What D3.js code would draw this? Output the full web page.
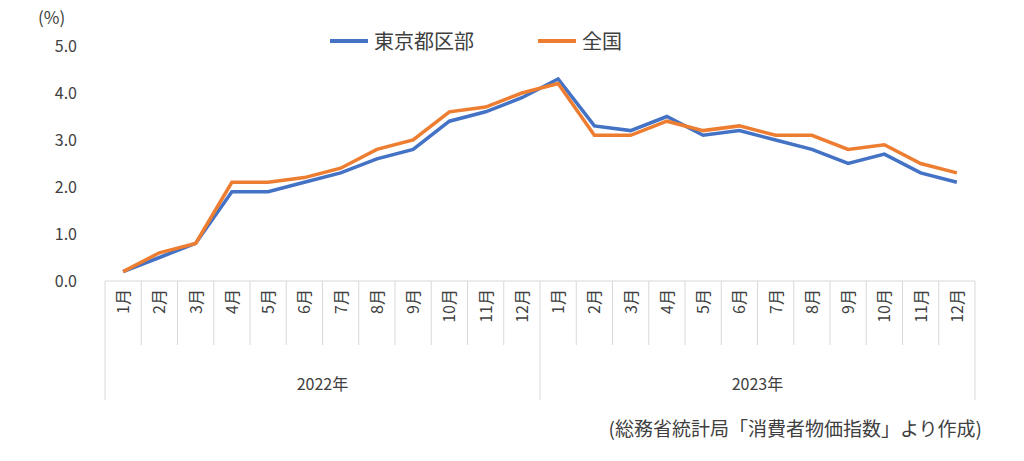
<!DOCTYPE html>
<html><head><meta charset="utf-8">
<script src="https://cdn.jsdelivr.net/npm/d3@7"></script>
<style>body{margin:0;background:#fff}text{font-family:"Noto Sans CJK JP","Noto Sans",sans-serif;fill:#404040}</style>
</head><body>
<script>
const months = ["1月","2月","3月","4月","5月","6月","7月","8月","9月","10月","11月","12月"];
const years = ["2022年","2023年"];
const tokyo = [0.2,0.5,0.8,1.9,1.9,2.1,2.3,2.6,2.8,3.4,3.6,3.9,4.3,3.3,3.2,3.5,3.1,3.2,3.0,2.8,2.5,2.7,2.3,2.1];
const national = [0.2,0.6,0.8,2.1,2.1,2.2,2.4,2.8,3.0,3.6,3.7,4.0,4.2,3.1,3.1,3.4,3.2,3.3,3.1,3.1,2.8,2.9,2.5,2.3];
const yTicks = [0,1,2,3,4,5];

const width = 1024, height = 461;
const plotLeft = 105, plotRight = 975, plotTop = 46, base = 281;
const svg = d3.select("body").append("svg").attr("width", width).attr("height", height);

const keys = d3.range(24);
const x = d3.scaleBand().domain(keys).range([plotLeft, plotRight]);
const y = d3.scaleLinear().domain([0, 5]).range([base, plotTop]);

// y tick labels
svg.append("g").selectAll("text").data(yTicks).enter().append("text")
  .attr("x", 77).attr("y", d => y(d) + 6).attr("text-anchor", "end")
  .attr("font-size", 16).text(d => d.toFixed(1));
svg.append("text").attr("x", 38).attr("y", 24).attr("font-size", 17).text("(%)");

// axis line and separators
const axisCol = "#d9d9d9";
svg.append("line").attr("x1", plotLeft).attr("x2", plotRight).attr("y1", base).attr("y2", base).attr("stroke", axisCol);
svg.append("g").selectAll("line").data(d3.range(25)).enter().append("line")
  .attr("x1", i => plotLeft + i * x.bandwidth()).attr("x2", i => plotLeft + i * x.bandwidth())
  .attr("y1", base).attr("y2", i => i % 12 === 0 ? 400 : 345)
  .attr("stroke", axisCol);

// month labels
svg.append("g").selectAll("text").data(keys).enter().append("text")
  .attr("transform", i => `translate(${x(i) + x.bandwidth() / 2 + 6},${base + 8}) rotate(-90)`)
  .attr("text-anchor", "end").attr("font-size", 16).text(i => months[i % 12]);

// year labels
svg.append("g").selectAll("text").data(years).enter().append("text")
  .attr("x", (d, i) => plotLeft + (i * 12 + 6) * x.bandwidth()).attr("y", 390)
  .attr("text-anchor", "middle").attr("font-size", 16).text(d => d);

// lines
const line = d3.line().x((d, i) => x(i) + x.bandwidth() / 2).y(d => y(d));
svg.append("path").datum(tokyo).attr("d", line).attr("fill", "none").attr("stroke", "#4472c4").attr("stroke-width", 3.5);
svg.append("path").datum(national).attr("d", line).attr("fill", "none").attr("stroke", "#ed7d31").attr("stroke-width", 3.5);

// legend
const legend = [{name: "東京都区部", color: "#4472c4", x: 330}, {name: "全国", color: "#ed7d31", x: 538}];
legend.forEach(l => {
  svg.append("line").attr("x1", l.x).attr("x2", l.x + 38).attr("y1", 41).attr("y2", 41)
    .attr("stroke", l.color).attr("stroke-width", 4);
  svg.append("text").attr("x", l.x + 44).attr("y", 49).attr("font-size", 20).text(l.name);
});

// source
svg.append("text").attr("x", 982).attr("y", 436).attr("text-anchor", "end").attr("font-size", 19)
  .text("(総務省統計局「消費者物価指数」より作成)");
</script>
</body></html>
